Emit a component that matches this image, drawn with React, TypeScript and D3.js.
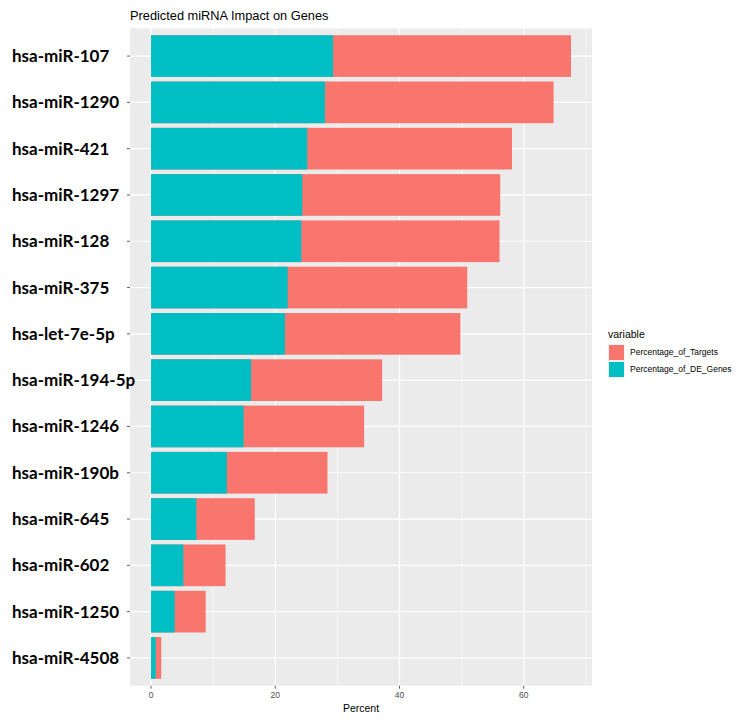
import React from "react";
import * as d3 from "d3";

const categories = [
  "hsa-miR-107", "hsa-miR-1290", "hsa-miR-421", "hsa-miR-1297", "hsa-miR-128",
  "hsa-miR-375", "hsa-let-7e-5p", "hsa-miR-194-5p", "hsa-miR-1246", "hsa-miR-190b",
  "hsa-miR-645", "hsa-miR-602", "hsa-miR-1250", "hsa-miR-4508",
];
const deGenes = [29.3, 28.0, 25.15, 24.35, 24.2, 22.0, 21.55, 16.1, 14.9, 12.2, 7.3, 5.2, 3.8, 0.75];
const targetsTotal = [67.6, 64.8, 58.1, 56.2, 56.1, 50.9, 49.8, 37.2, 34.3, 28.4, 16.7, 12.0, 8.8, 1.65];
const xTicks = [0, 20, 40, 60];
const xMinor = [10, 30, 50, 70];
const seriesNames = ["Percentage_of_Targets", "Percentage_of_DE_Genes"];
const seriesColors = ["#F8766D", "#00BFC4"];

const W = 742, H = 722;
const pL = 130, pR = 592, pT = 28.3, pB = 685.7;

export default function App() {
  const maxV = d3.max(targetsTotal) as number;
  const x = d3.scaleLinear().domain([-0.05 * maxV, maxV * 1.05]).range([pL, pR]);
  const n = categories.length;
  const step = (pB - pT) / (n - 1 + 1.2);
  const yc = (i: number) => pT + step * (0.6 + i);
  const bw = step * 0.9;
  const sans = "'Liberation Sans', Arial, sans-serif";
  return (
    <svg width={W} height={H} style={{ position: "absolute", left: 0, top: 0, background: "#fff" }}>
      <rect x={pL} y={pT} width={pR - pL} height={pB - pT} fill="#EBEBEB" />
      {xMinor.map((t) => (
        <line key={"m" + t} x1={x(t)} x2={x(t)} y1={pT} y2={pB} stroke="#fff" strokeWidth={0.6} />
      ))}
      {xTicks.map((t) => (
        <line key={"g" + t} x1={x(t)} x2={x(t)} y1={pT} y2={pB} stroke="#fff" strokeWidth={1.2} />
      ))}
      {categories.map((c, i) => (
        <line key={"h" + c} x1={pL} x2={pR} y1={yc(i)} y2={yc(i)} stroke="#fff" strokeWidth={1.2} />
      ))}
      {categories.map((c, i) => (
        <g key={"b" + c}>
          <rect x={x(0)} y={yc(i) - bw / 2} width={x(targetsTotal[i]) - x(0)} height={bw} fill={seriesColors[0]} />
          <rect x={x(0)} y={yc(i) - bw / 2} width={x(deGenes[i]) - x(0)} height={bw} fill={seriesColors[1]} />
        </g>
      ))}
      {categories.map((c, i) => (
        <g key={"l" + c}>
          <line x1={pL - 3} x2={pL} y1={yc(i)} y2={yc(i)} stroke="#333" strokeWidth={0.8} />
          <text x={12} y={yc(i)} dy="0.35em" fontFamily="Lato, 'Open Sans', sans-serif" fontWeight="bold" fontSize={17} fill="#000">{c}</text>
        </g>
      ))}
      {xTicks.map((t) => (
        <g key={"t" + t}>
          <line x1={x(t)} x2={x(t)} y1={pB} y2={pB + 3} stroke="#333" strokeWidth={0.8} />
          <text x={x(t)} y={pB + 12.5} textAnchor="middle" fontFamily={sans} fontSize={8.5} fill="#4D4D4D">{t}</text>
        </g>
      ))}
      <text x={(pL + pR) / 2} y={711.5} textAnchor="middle" fontFamily={sans} fontSize={10.5} fill="#000">Percent</text>
      <text x={pL} y={20} fontFamily={sans} fontSize={12.8} fill="#000">Predicted miRNA Impact on Genes</text>
      <g transform={`translate(608, ${(pT + pB) / 2 - 19})`}>
        <text x={0} y={0} fontFamily={sans} fontSize={10.5} fill="#000">variable</text>
        {seriesNames.map((s, i) => (
          <g key={s} transform={`translate(0, ${6 + i * 17})`}>
            <rect x={0} y={0} width={17} height={17} fill="#F2F2F2" />
            <rect x={1} y={1} width={15} height={15} fill={seriesColors[i]} />
            <text x={22} y={8.5} dy="0.35em" fontFamily={sans} fontSize={8.5} fill="#000">{s}</text>
          </g>
        ))}
      </g>
    </svg>
  );
}
